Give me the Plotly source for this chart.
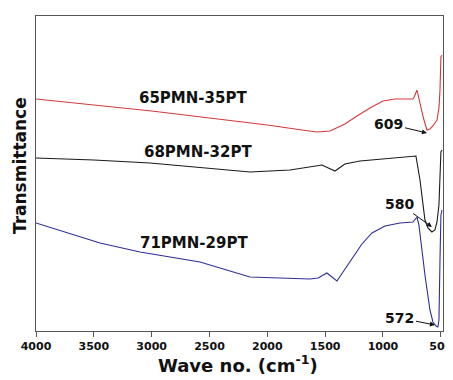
import plotly.graph_objects as go

# Wavenumbers (cm^-1) and transmittance (arbitrary units)
wn_65 = [4000, 3500, 3000, 2500, 2000, 1700, 1571, 1458, 1329, 1225, 1113, 1000, 897,
         741, 730, 706, 680, 650, 620, 594, 568, 533, 516, 507, 499, 490]
t_65 = [232, 226, 220, 213, 206, 201, 199, 200, 207, 215, 223, 230, 232,
        232, 234, 241, 227, 213, 201, 202, 205, 211, 223, 241, 274, 276]

wn_68 = [4000, 3500, 3014, 2500, 2150, 1804, 1528, 1415, 1329, 1199, 1026, 853, 715,
         680, 637, 611, 577, 551, 533, 516, 507, 499, 490]
t_68 = [173, 171, 168, 163, 159, 161, 166, 160, 167, 170, 172, 174, 175,
        151, 111, 103, 99, 101, 109, 126, 161, 179, 181]

wn_71 = [4000, 3447, 3100, 2582, 2150, 1632, 1560, 1485, 1398, 1286, 1182, 1095, 983,
         853, 741, 706, 689, 637, 594, 568, 542, 525, 516, 507, 499, 490]
t_71 = [108, 88, 79, 69, 54, 52, 53, 58, 50, 69, 87, 98, 105,
        108, 109, 114, 106, 56, 21, 9, 5, 4, 11, 71, 116, 121]

series_names = ["65PMN-35PT", "68PMN-32PT", "71PMN-29PT"]
series_colors = ["#d23a3a", "#1a1a1a", "#2e2e96"]
label_pos = [(2643, 233), (2600, 179), (2634, 88)]

peak_labels = ["609", "580", "572"]
peak_heads = [(620, 198), (577, 104), (551, 6)]
peak_text = [(948, 207), (853, 127), (853, 13)]

tick_vals = [4000, 3500, 3000, 2500, 2000, 1500, 1000, 500]

x_title = "Wave no. (cm<sup>-1</sup>)"
y_title = "Transmittance"

FONT = "DejaVu Sans"

fig = go.Figure()
for wn, t, name, col in zip([wn_65, wn_68, wn_71], [t_65, t_68, t_71], series_names, series_colors):
    fig.add_trace(go.Scatter(x=wn, y=t, mode="lines", name=name,
                             line=dict(color=col, width=1.1), showlegend=False))

annotations = []
for (x, y), name in zip(label_pos, series_names):
    annotations.append(dict(x=x, y=y, xref="x", yref="y", text="<b>%s</b>" % name,
                            showarrow=False, font=dict(family=FONT, size=15, color="#111")))
for lab, (hx, hy), (tx, ty) in zip(peak_labels, peak_heads, peak_text):
    annotations.append(dict(x=hx, y=hy, xref="x", yref="y", ax=tx, ay=ty, axref="x", ayref="y",
                            text="<b>%s</b>" % lab, showarrow=True, arrowhead=2, arrowsize=1,
                            arrowwidth=1, arrowcolor="#111", standoff=0,
                            font=dict(family=FONT, size=14, color="#111")))
# axis titles
annotations.append(dict(x=0.497, y=-0.105, xref="paper", yref="paper", xanchor="center",
                        yanchor="middle", showarrow=False, text="<b>%s</b>" % x_title,
                        font=dict(family=FONT, size=18, color="#111")))
annotations.append(dict(x=-0.039, y=0.524, xref="paper", yref="paper", xanchor="center",
                        yanchor="middle", showarrow=False, textangle=-90,
                        text="<b>%s</b>" % y_title,
                        font=dict(family=FONT, size=17, color="#111")))

# the page body adds an 8px offset, so the figure is 8px smaller than the window
fig.update_layout(
    width=445, height=372,
    margin=dict(l=28, r=10, t=8, b=49, autoexpand=False),
    paper_bgcolor="white", plot_bgcolor="white",
    font=dict(family=FONT, color="#111"),
    annotations=annotations,
    xaxis=dict(range=[4000, 481], tickvals=tick_vals,
               ticktext=["<b>%d</b>" % v for v in tick_vals],
               ticks="outside", ticklen=5, tickcolor="#555", tickwidth=1,
               showline=True, linecolor="#555", linewidth=1, mirror=True,
               showgrid=False, zeroline=False, automargin=False,
               ticklabeloverflow="allow",
               tickfont=dict(family=FONT, size=11, color="#111")),
    yaxis=dict(range=[0, 315], showticklabels=False, ticks="",
               showline=True, linecolor="#555", linewidth=1, mirror=True,
               showgrid=False, zeroline=False, automargin=False),
)

fig.write_html("out.html")
